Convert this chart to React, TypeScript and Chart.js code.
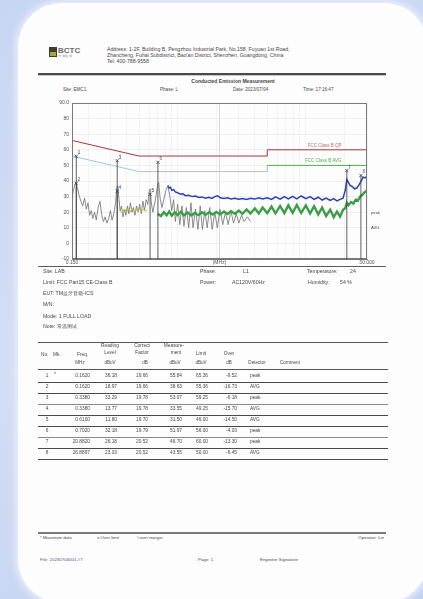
import React, { useEffect, useRef } from "react";
import { Chart, registerables } from "chart.js";
Chart.register(...registerables);

const FONT = '"Liberation Sans", Arial, sans-serif';

// ---------- chart data ----------
const xTickValues = [0.15, 2.1213, 30];
const xTickLabels = ["0.150", "(MHz)", "30.000"];
const xGridValues = [0.2, 0.3, 0.4, 0.5, 0.6, 0.7, 0.8, 0.9, 1, 2, 3, 4, 5, 6, 7, 8, 9, 10, 20];
const yTickValues = [-10, 0, 10, 20, 30, 40, 50, 60, 70, 80, 90];
const yTickLabels = ["-10", "0", "10", "20", "30", "40", "50", "60", "70", "80", "90.0"];

const qpLimit = [[0.15, 66], [0.5, 56], [5, 56], [5, 60], [30, 60]];
const avLimit = [[0.15, 56], [0.5, 46], [5, 46], [5, 50], [30, 50]];
const avSegColors = ["#9cc8ea", "#bdbdbd", "#8fcf8f", "#4fb04f"];
const limitLabels = ["FCC Class B QP", "FCC Class B AVG"];

const grayScan = [
  [0.150, 28], [0.153, 33], [0.157, 37], [0.161, 39], [0.165, 36], [0.170, 31], [0.176, 27], [0.182, 24],
  [0.188, 29], [0.194, 22], [0.200, 26], [0.206, 18], [0.212, 21], [0.218, 16], [0.225, 20], [0.232, 15],
  [0.240, 23], [0.248, 27], [0.256, 18], [0.264, 14], [0.272, 17], [0.281, 13], [0.290, 16], [0.299, 21],
  [0.308, 15], [0.318, 19], [0.328, 26], [0.336, 36], [0.342, 37], [0.348, 29], [0.356, 21], [0.365, 24],
  [0.375, 17], [0.385, 22], [0.395, 18], [0.406, 24], [0.417, 19], [0.428, 26], [0.440, 20], [0.452, 23],
  [0.465, 18], [0.478, 24], [0.492, 20], [0.506, 25], [0.521, 19], [0.536, 27], [0.552, 21], [0.568, 28],
  [0.585, 25], [0.600, 33], [0.610, 35], [0.622, 27], [0.640, 20], [0.660, 25], [0.680, 31], [0.700, 38],
  [0.712, 39], [0.730, 29], [0.755, 23], [0.780, 28], [0.810, 34], [0.840, 37], [0.870, 30], [0.900, 21],
  [0.930, 28], [0.960, 14], [1.000, 25], [1.040, 12], [1.080, 24], [1.120, 11], [1.170, 23], [1.220, 10],
  [1.270, 26], [1.320, 10], [1.380, 22], [1.440, 9], [1.500, 24], [1.560, 9], [1.630, 21], [1.700, 10],
  [1.780, 23], [1.860, 9], [1.950, 20], [2.040, 10], [2.140, 22], [2.250, 12], [2.360, 20], [2.480, 12],
  [2.600, 21], [2.730, 13], [2.870, 19], [3.000, 13], [3.150, 18], [3.300, 14], [3.500, 17], [3.700, 14],
];

const yellowScan = [
  [0.355, 21], [0.37, 19.5], [0.385, 22], [0.4, 20], [0.415, 22.5], [0.43, 20.2], [0.445, 21.8], [0.46, 19.8],
  [0.475, 22], [0.49, 20.5], [0.505, 22.5], [0.52, 20.4], [0.54, 22], [0.56, 20.6], [0.58, 21.5],
];

const blueScan = [
  [0.84, 37], [0.86, 35.5], [0.88, 36], [0.9, 34], [0.93, 34.5], [0.96, 33], [1.0, 32.5], [1.05, 31.5],
  [1.1, 31.8], [1.15, 30.6], [1.22, 30.9], [1.3, 30], [1.38, 30.3], [1.46, 29.4], [1.55, 29.8], [1.65, 29],
  [1.75, 29.5], [1.85, 28.8], [1.95, 30], [2.05, 30.5], [2.15, 29.2], [2.3, 28.8], [2.45, 29.3], [2.6, 28.5],
  [2.8, 29], [3.0, 28.3], [3.2, 28.8], [3.45, 28.2], [3.7, 28.9], [4.0, 28.4], [4.3, 29.2], [4.6, 28.5],
  [5.0, 29.3], [5.4, 28.2], [5.8, 29.8], [6.3, 28.4], [6.8, 30], [7.3, 28.5], [7.9, 30.2], [8.5, 28.6],
  [9.2, 30.4], [10, 28.7], [10.8, 30], [11.6, 28.2], [12.5, 29.6], [13.4, 27.8], [14.4, 29.1], [15.5, 27.5],
  [16.5, 28.7], [17.5, 27.2], [18.5, 28.2], [19.5, 29], [20.3, 34], [20.9, 41], [21.5, 39], [22.2, 37],
  [23, 36.5], [24, 35], [25, 35.5], [26, 37.5], [27, 40], [28, 42.5], [29, 42], [30, 43],
];

const greenScan = [
  [0.7, 19], [0.74, 17.5], [0.78, 20], [0.82, 18], [0.86, 20.5], [0.9, 17.8], [0.95, 20], [1.0, 18.2],
  [1.06, 20.3], [1.12, 18], [1.2, 19.8], [1.28, 17.9], [1.36, 19.5], [1.45, 18.1], [1.55, 19.9], [1.65, 18.3],
  [1.76, 20], [1.88, 18.5], [2.0, 20.2], [2.15, 18.6], [2.3, 20.4], [2.45, 18.8], [2.6, 20.6], [2.8, 19],
  [3.0, 21], [3.2, 19], [3.45, 21.8], [3.7, 19.2], [4.0, 22.4], [4.3, 19.2], [4.6, 23], [5.0, 19.4],
  [5.4, 23.6], [5.8, 19.3], [6.3, 24], [6.8, 19.5], [7.3, 24.4], [7.9, 19.6], [8.5, 24.6], [9.2, 19.5],
  [10, 24.3], [10.8, 19.2], [11.6, 23.8], [12.5, 18.6], [13.4, 23], [14.4, 17.6], [15.5, 21.6], [16.5, 16.8],
  [17.5, 20.4], [18.5, 17.2], [19.5, 21.5], [20.3, 22.5], [20.9, 26], [21.5, 24.5], [22.5, 26.5], [23.5, 25.5],
  [24.5, 28], [25.5, 27.5], [26.5, 30], [27.5, 31], [28.5, 32.5], [30, 34],
];

// ---------- marker table data ----------
const markerNo = [1, 2, 3, 4, 5, 6, 7, 8];
const markerMk = ["*", "", "", "", "", "", "", ""];
const markerFreq = [0.162, 0.162, 0.338, 0.338, 0.61, 0.702, 20.882, 26.8897];
const markerReading = [36.18, 18.97, 33.29, 13.77, 11.8, 32.18, 26.18, 23.03];
const markerFactor = [19.66, 19.66, 19.78, 19.78, 19.7, 19.79, 20.52, 20.52];
const markerMeasure = [55.84, 38.63, 53.07, 33.55, 31.5, 51.97, 46.7, 43.55];
const markerLimit = [65.36, 55.36, 59.25, 49.25, 46.0, 56.0, 60.0, 50.0];
const markerOver = [-9.52, -16.73, -6.18, -15.7, -14.5, -4.03, -13.3, -6.45];
const markerDetector = ["peak", "AVG", "peak", "AVG", "AVG", "peak", "peak", "AVG"];

const pts = (a: number[][]) => a.map(([f, v]) => ({ x: f, y: v }));

function T(props: any) {
  const { x, y, s = 5, children, color = "#484848", bold = false, align = "left" } = props;
  const st: React.CSSProperties = {
    position: "absolute",
    top: y - s * 0.55,
    fontSize: s,
    lineHeight: 1,
    whiteSpace: "nowrap",
    color,
    fontWeight: bold ? 700 : 400,
    fontFamily: FONT,
  };
  if (align === "left") st.left = x;
  else if (align === "right") st.right = 423 - x;
  else {
    st.left = x;
    st.transform = "translateX(-50%)";
  }
  return <div style={st}>{children}</div>;
}

function L(props: any) {
  const { x, y, w, h = 1, c = "#555" } = props;
  return <div style={{ position: "absolute", left: x, top: y, width: w, height: h, background: c }} />;
}

const overlayPlugin = {
  id: "overlay",
  afterDatasetsDraw(chart: any) {
    const { ctx, chartArea: a, scales } = chart;
    const xs = scales.x;
    const ys = scales.y;
    ctx.save();
    ctx.strokeStyle = "#7a7a7a";
    ctx.lineWidth = 1;
    ctx.strokeRect(a.left + 0.5, a.top + 0.5, a.right - a.left - 1, a.bottom - a.top - 1);
    ctx.font = `4.5px ${FONT}`;
    markerFreq.forEach((f, i) => {
      const px = xs.getPixelForValue(f);
      const py = ys.getPixelForValue(markerMeasure[i]);
      ctx.strokeStyle = "#3a3a3a";
      ctx.lineWidth = 0.8;
      ctx.beginPath();
      ctx.moveTo(px, py);
      ctx.lineTo(px, a.bottom);
      ctx.stroke();
      ctx.fillStyle = i % 2 === 0 ? "#333" : "#3050c0";
      ctx.textAlign = "left";
      ctx.fillText(String(markerNo[i]), px + 1.5, py - 2);
    });
    ctx.textAlign = "right";
    ctx.fillStyle = "#c46a6a";
    ctx.fillText(limitLabels[0], xs.getPixelForValue(19), ys.getPixelForValue(60) - 3);
    ctx.fillStyle = "#5aa85a";
    ctx.fillText(limitLabels[1], xs.getPixelForValue(19), ys.getPixelForValue(50) - 3);
    ctx.restore();
  },
};

export default function App() {
  const ref = useRef<HTMLCanvasElement>(null);

  useEffect(() => {
    const tickFont = { size: 5, family: FONT };
    const chart = new Chart(ref.current as HTMLCanvasElement, {
      type: "line",
      data: {
        datasets: [
          {
            type: "scatter",
            data: markerFreq.map((f, i) => ({ x: f, y: markerMeasure[i] })),
            pointStyle: "crossRot",
            pointRadius: 2.2,
            borderColor: "#333",
            borderWidth: 0.8,
            showLine: false,
          } as any,
          { data: pts(qpLimit), borderColor: "#9e3a3a", borderWidth: 1, pointRadius: 0 },
          {
            data: pts(avLimit),
            borderColor: "#4fb04f",
            borderWidth: 1,
            pointRadius: 0,
            segment: { borderColor: (c: any) => avSegColors[c.p0DataIndex] },
          },
          { data: pts(blueScan), borderColor: "#2a40b8", borderWidth: 1.5, pointRadius: 0 },
          { data: pts(greenScan), borderColor: "#3a9e48", borderWidth: 2.4, pointRadius: 0 },
          { data: pts(yellowScan), borderColor: "#b4c03c", borderWidth: 1, pointRadius: 0 },
          { data: pts(grayScan), borderColor: "#707070", borderWidth: 0.8, pointRadius: 0 },
        ],
      },
      options: {
        animation: false,
        responsive: false,
        layout: { padding: { left: 0, right: 18, top: 8, bottom: 0 } },
        plugins: { legend: { display: false }, tooltip: { enabled: false } },
        scales: {
          x: {
            type: "logarithmic",
            min: 0.15,
            max: 30,
            afterBuildTicks: (s: any) => {
              s.ticks = [...xGridValues, ...xTickValues].sort((a, b) => a - b).map((v) => ({ value: v }));
            },
            afterFit: (s: any) => {
              s.height = 11;
            },
            ticks: {
              autoSkip: false,
              maxRotation: 0,
              padding: 1,
              font: tickFont,
              color: "#555",
              callback: (v: any) => {
                const i = xTickValues.indexOf(Number(v));
                return i >= 0 ? xTickLabels[i] : "";
              },
            },
            grid: {
              drawTicks: false,
              lineWidth: 0.6,
              color: (c: any) => (c.tick && c.tick.value === xTickValues[1] ? "#c4c4c4" : "#ececec"),
            },
            border: { display: true, color: "#777" },
          },
          y: {
            type: "linear",
            min: -10,
            max: 90,
            afterBuildTicks: (s: any) => {
              s.ticks = yTickValues.map((v) => ({ value: v }));
            },
            afterFit: (s: any) => {
              s.width = 32;
            },
            ticks: {
              padding: 3,
              font: tickFont,
              color: "#555",
              callback: (v: any) => {
                const i = yTickValues.indexOf(Number(v));
                return i >= 0 ? yTickLabels[i] : "";
              },
            },
            grid: { drawTicks: false, lineWidth: 0.6, color: "#e6e6e6" },
            border: { display: true, color: "#777" },
          },
        },
      },
      plugins: [overlayPlugin],
    } as any);
    return () => chart.destroy();
  }, []);

  const rowY = [377, 388, 398.5, 409.5, 420.5, 431.5, 443, 454];
  const rowLineY = [381.5, 393, 404, 415, 425.5, 436.5, 448, 459];

  return (
    <div
      style={{
        position: "fixed",
        left: 0,
        top: 0,
        width: 423,
        height: 599,
        overflow: "hidden",
        background: "linear-gradient(160deg, #c7d6f3 0%, #d3def5 50%, #c2d2f1 100%)",
        fontFamily: FONT,
      }}
    >
      {/* page */}
      <div
        style={{
          position: "absolute",
          left: 18,
          top: 3,
          width: 410,
          height: 600,
          background: "#fdfdfd",
          borderRadius: 44,
          boxShadow: "0 0 6px 3px rgba(235,240,252,0.9)",
        }}
      />

      {/* header */}
      <div style={{ position: "absolute", left: 49, top: 47, width: 8, height: 10, background: "#3d3d2e" }} />
      <div style={{ position: "absolute", left: 50, top: 52, width: 6, height: 4, background: "#a9a640" }} />
      <T x={58} y={51} s={8} bold color="#6a6a6a">BCTC</T>
      <T x={58} y={57.5} s={2.6} color="#888">倍 测 检 测</T>
      <T x={107} y={50} s={5.2}>Address: 1-2F, Building B, Pengzhou Industrial Park, No.158, Fuyuan 1st Road,</T>
      <T x={107} y={56} s={5.2}>Zhancheng, Fuhai Subdistrict, Bao'an District, Shenzhen, Guangdong, China</T>
      <T x={107} y={62} s={5.2}>Tel: 400-788-9558</T>
      <L x={38} y={73} w={348} h={1.5} c="#4a4a4a" />
      <L x={38} y={74.5} w={348} h={1} c="#c8c8c8" />
      <T x={233} y={81.5} s={5} bold align="center">Conducted Emission Measurement</T>

      <T x={63} y={90.5} s={4.6}>Site: EMC1</T>
      <T x={160} y={90.5} s={4.6}>Phase: L</T>
      <T x={233} y={90.5} s={4.6}>Date: 2023/07/04</T>
      <T x={303} y={90.5} s={4.6}>Time: 17:16:47</T>

      {/* chart */}
      <canvas
        ref={ref}
        width={345}
        height={175}
        style={{ position: "absolute", left: 40, top: 95, width: 345, height: 175 }}
      />
      <T x={371} y={213} s={4.2}>peak</T>
      <T x={371} y={228} s={4.2}>AVG</T>
      <L x={38} y={266} w={348} h={1} c="#5a5a5a" />

      {/* info */}
      <T x={43} y={272} s={5.2}>Site: LAB</T>
      <T x={43} y={283} s={5.2}>Limit: FCC Part15 CE-Class B</T>
      <T x={43} y={293.5} s={5.2}>EUT: TM蓝牙音箱-ICS</T>
      <T x={43} y={304.5} s={5.2}>M/N:</T>
      <T x={43} y={316.5} s={5.2}>Mode: 1 FULL LOAD</T>
      <T x={43} y={327} s={5.2}>Note: 常温测试</T>
      <T x={200} y={272} s={5.2}>Phase:</T>
      <T x={243} y={272} s={5.2}>L1</T>
      <T x={200} y={283} s={5.2}>Power:</T>
      <T x={232} y={283} s={5.2}>AC120V/60Hz</T>
      <T x={307} y={272} s={5.2}>Temperature:</T>
      <T x={350} y={272} s={5.2}>24</T>
      <T x={308} y={283} s={5.2}>Humidity:</T>
      <T x={340} y={283} s={5.2}>54 %</T>

      {/* table */}
      <L x={38} y={342} w={350} h={1} c="#555" />
      <T x={110} y={347} s={4.8} align="center">Reading</T>
      <T x={142} y={347} s={4.8} align="center">Correct</T>
      <T x={174} y={347} s={4.8} align="center">Measure-</T>
      <T x={110} y={353.5} s={4.8} align="center">Level</T>
      <T x={142} y={353.5} s={4.8} align="center">Factor</T>
      <T x={176} y={353.5} s={4.8} align="center">ment</T>
      <T x={201} y={355} s={4.8} align="center">Limit</T>
      <T x={229} y={355} s={4.8} align="center">Over</T>
      <T x={41} y={356} s={4.8}>No.</T>
      <T x={53} y={356} s={4.8}>Mk.</T>
      <T x={77} y={356} s={4.8}>Freq.</T>
      <T x={80} y={364} s={4.6} align="center">MHz</T>
      <T x={110} y={364} s={4.6} align="center">dBuV</T>
      <T x={145} y={364} s={4.6} align="center">dB</T>
      <T x={175} y={364} s={4.6} align="center">dBuV</T>
      <T x={201} y={364} s={4.6} align="center">dBuV</T>
      <T x={229} y={364} s={4.6} align="center">dB</T>
      <T x={257} y={364} s={4.6} align="center">Detector</T>
      <T x={290} y={364} s={4.6} align="center">Comment</T>
      <L x={38} y={369} w={350} h={1} c="#555" />
      {markerNo.map((n, i) => (
        <React.Fragment key={n}>
          <T x={47} y={rowY[i]} s={4.8} align="center">{n}</T>
          <T x={54} y={rowY[i] - 1} s={4.8}>{markerMk[i]}</T>
          <T x={90} y={rowY[i]} s={4.8} align="right">{markerFreq[i].toFixed(4)}</T>
          <T x={117} y={rowY[i]} s={4.8} align="right">{markerReading[i].toFixed(2)}</T>
          <T x={148} y={rowY[i]} s={4.8} align="right">{markerFactor[i].toFixed(2)}</T>
          <T x={182} y={rowY[i]} s={4.8} align="right">{markerMeasure[i].toFixed(2)}</T>
          <T x={208} y={rowY[i]} s={4.8} align="right">{markerLimit[i].toFixed(2)}</T>
          <T x={237} y={rowY[i]} s={4.8} align="right">{markerOver[i].toFixed(2)}</T>
          <T x={250} y={rowY[i]} s={4.8}>{markerDetector[i]}</T>
          <L x={38} y={rowLineY[i]} w={350} h={1} c={i % 3 === 2 ? "#8a8a8a" : "#4a4a4a"} />
        </React.Fragment>
      ))}

      {/* footer */}
      <L x={38} y={532} w={348} h={1.5} c="#7a7a7a" />
      <T x={40} y={538.5} s={4.4}>*:Maximum data</T>
      <T x={97} y={538.5} s={4.4}>x:Over limit</T>
      <T x={137} y={538.5} s={4.4}>!:over margin</T>
      <T x={384} y={538.5} s={4.4} align="right">Operator: Lin</T>
      <T x={40} y={560} s={4.4} color="#4a5a8a">File: 20230704001-#7</T>
      <T x={198} y={560} s={4.4}>Page: 1</T>
      <T x={260} y={560} s={4.4}>Engineer Signature:</T>
    </div>
  );
}
